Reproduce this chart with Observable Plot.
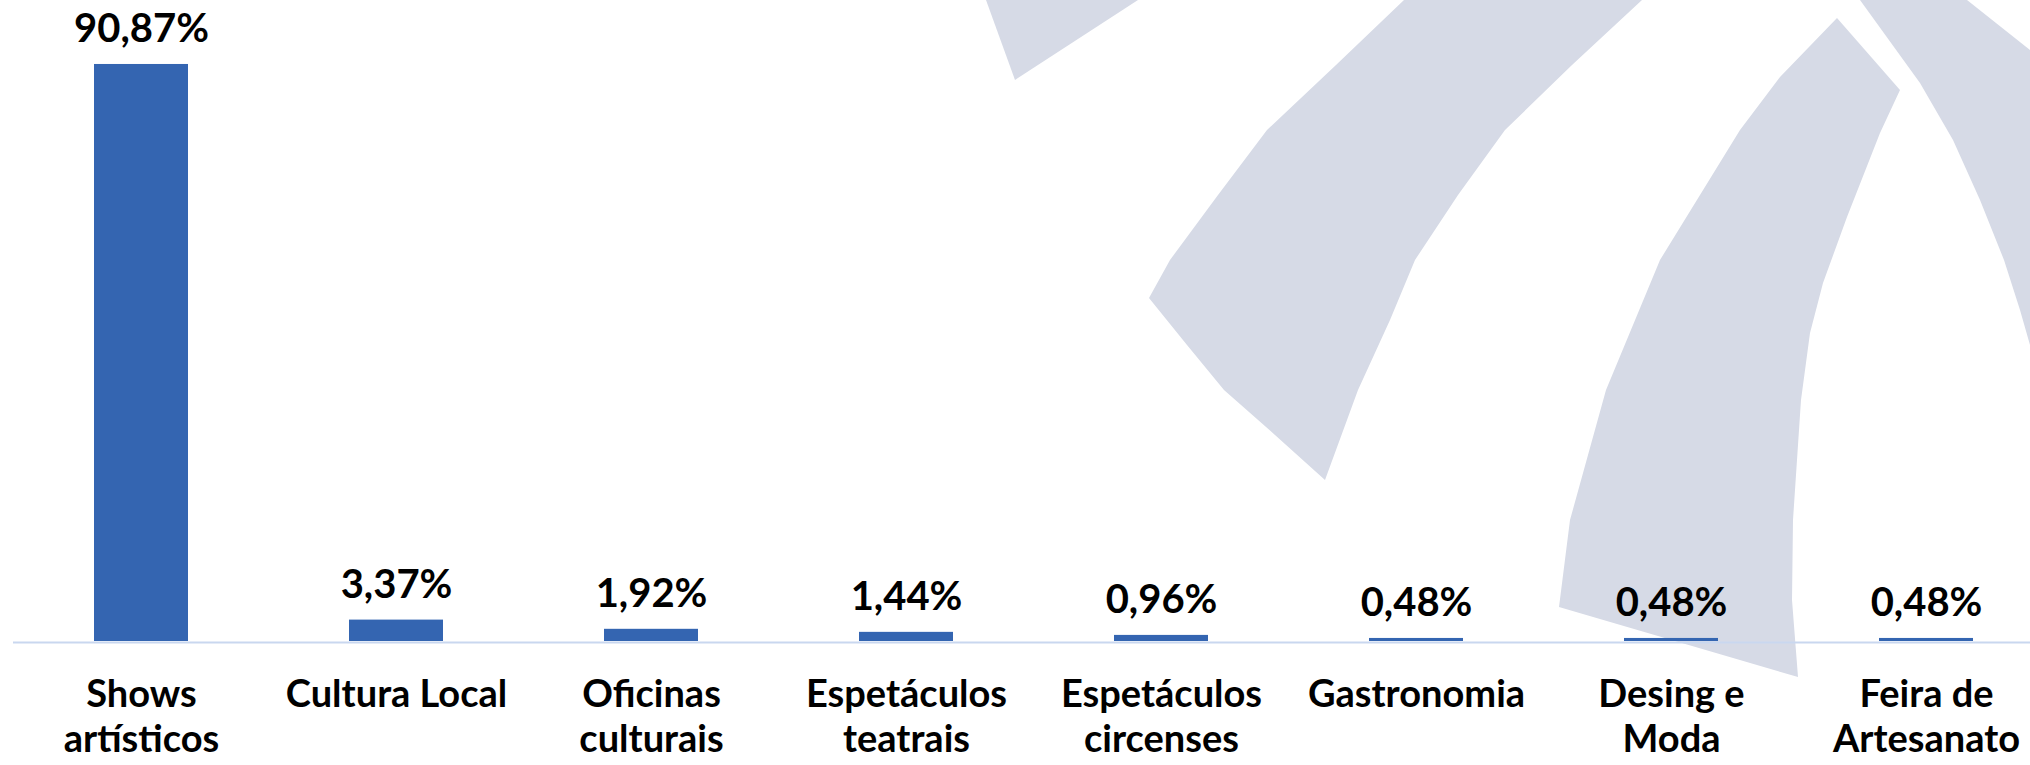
<!DOCTYPE html>
<html>
<head>
<meta charset="utf-8">
<script src="https://cdn.jsdelivr.net/npm/d3@7"></script>
<script src="https://cdn.jsdelivr.net/npm/@observablehq/plot@0.6"></script>
<style>
  html, body { margin: 0; padding: 0; background: #ffffff; }
  #wrap { position: relative; width: 2030px; height: 765px; overflow: hidden; background: #ffffff; }
  #wm { position: absolute; left: 0; top: 0; }
  #chart { position: absolute; left: 0; top: 0; }
</style>
</head>
<body>
<div id="wrap">
  <svg id="wm" width="2030" height="765"></svg>
  <div id="chart"></div>
</div>
<script>
// ---- data ----
const categories = [
  "Shows artísticos", "Cultura Local", "Oficinas culturais", "Espetáculos teatrais",
  "Espetáculos circenses", "Gastronomia", "Desing e Moda", "Feira de Artesanato"
];
const tickLabels = [
  "Shows\nartísticos", "Cultura Local", "Oficinas\nculturais", "Espetáculos\nteatrais",
  "Espetáculos\ncircenses", "Gastronomia", "Desing e\nModa", "Feira de\nArtesanato"
];
const values = [90.87, 3.37, 1.92, 1.44, 0.96, 0.48, 0.48, 0.48];

// decorative background watermark (not data)
const watermarkShapes = [
  [[986,0],[1015,80],[1138,0]],
  [[1404,0],[1336,65],[1267,130],[1218,195],[1170,260],[1149,298],[1187,345],[1224,390],[1275,435],[1325,480],
   [1358,390],[1390,320],[1415,260],[1458,195],[1505,130],[1572,65],[1642,0]],
  [[1837,18],[1900,90],[1880,133],[1847,217],[1823,283],[1810,333],[1801,400],[1793,520],[1792,600],[1798,677],
   [1559,607],[1570,520],[1606,390],[1660,260],[1700,195],[1740,130],[1780,77]],
  [[1860,0],[1920,83],[1953,140],[1980,200],[2004,260],[2020,310],[2030,345],[2030,50],[1967,0]]
];

const FONT = "Lato, 'Open Sans', sans-serif";
const FS = 40;
const AXIS_FS = 38;

// watermark
const wm = d3.select("#wm");
wm.selectAll("path").data(watermarkShapes).join("path")
  .attr("d", d => "M" + d.map(p => p.join(",")).join("L") + "Z")
  .attr("fill", "#d6dae6");

const data = categories.map((c, i) => ({category: c, value: values[i]}));
const labelOf = Object.fromEntries(categories.map((c, i) => [c, tickLabels[i]]));
const fmt = v => v.toFixed(2).replace(".", ",") + "%";

const chart = Plot.plot({
  width: 2030,
  height: 765,
  marginTop: 6,
  marginBottom: 124,
  marginLeft: 13,
  marginRight: 0,
  style: {background: "transparent", fontFamily: FONT, fontWeight: "bold", fontSize: FS + "px", color: "#000", overflow: "hidden"},
  x: {domain: categories, range: [14, 2054], paddingInner: 0.63, paddingOuter: 0.315, align: 0.5, axis: null},
  y: {domain: [0, 100], axis: null},
  marks: [
    Plot.ruleY([0], {stroke: "#c9d7ef", strokeWidth: 2, dy: 1}),
    Plot.barY(data, {x: "category", y: "value", fill: "#3465b1"}),
    Plot.text(data, {
      x: "category", y: "value", text: d => fmt(d.value),
      lineAnchor: "bottom", dy: -22, fontSize: FS, fontWeight: "bold", fill: "#000"
    }),
    Plot.axisX({
      label: null, tickSize: 0, tickPadding: 33, tickFormat: d => labelOf[d],
      lineHeight: 1.2, fontSize: AXIS_FS, fontWeight: "bold", fill: "#000"
    })
  ]
});
document.getElementById("chart").appendChild(chart);
</script>
</body>
</html>
